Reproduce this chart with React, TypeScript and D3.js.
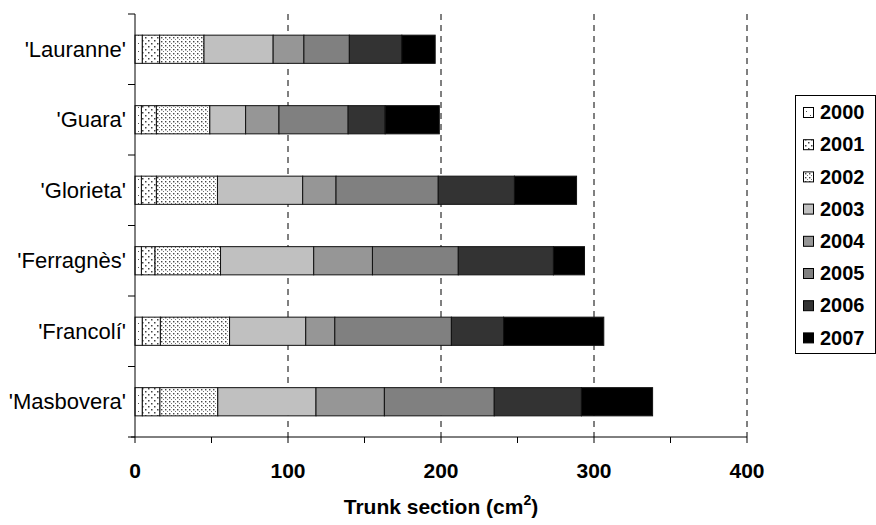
import React, { useEffect, useRef } from "react";
import * as d3 from "d3";

const categories = ["'Lauranne'", "'Guara'", "'Glorieta'", "'Ferragnès'", "'Francolí'", "'Masbovera'"];
const years = ["2000", "2001", "2002", "2003", "2004", "2005", "2006", "2007"];
const y2000 = [4.8, 4.2, 4.2, 4.2, 4.8, 4.8];
const y2001 = [11.3, 9.8, 9.8, 8.9, 11.8, 11.5];
const y2002 = [29.0, 34.9, 39.9, 42.8, 45.2, 37.8];
const y2003 = [45.2, 23.4, 55.7, 60.9, 49.8, 64.2];
const y2004 = [20.1, 21.8, 21.8, 38.4, 19.0, 44.7];
const y2005 = [29.7, 45.2, 66.8, 56.1, 76.2, 71.8];
const y2006 = [34.3, 24.2, 49.8, 62.2, 34.1, 57.0];
const y2007 = [21.8, 35.4, 40.6, 20.3, 65.5, 46.5];
const xTicks = [0, 100, 200, 300, 400];
const xMinorTicks = [0, 50, 100, 150, 200, 250, 300, 350, 400];

const fills = ["url(#p2000)", "url(#p2001)", "url(#p2002)", "#c0c0c0", "#969696", "#808080", "#333333", "#000000"];
const font = "'Liberation Sans', Arial, sans-serif";

const App = () => {
  const svgRef = useRef(null);

  useEffect(() => {
    const svg = d3.select(svgRef.current);
    svg.selectAll("*").remove();

    const width = 876,
      height = 525;
    const left = 135,
      right = 747,
      top = 14,
      bottom = 437;

    const series = [y2000, y2001, y2002, y2003, y2004, y2005, y2006, y2007];
    const rows = categories.map((c, i) => {
      const r = { cat: c };
      years.forEach((yr, j) => (r[yr] = series[j][i]));
      return r;
    });
    const stacked = d3.stack().keys(years)(rows);

    const x = d3.scaleLinear().domain([0, 400]).range([left, right]);
    const y = d3.scaleBand().domain(categories).range([top, bottom]).paddingInner(0.6).paddingOuter(0.3);
    const band = d3.scaleBand().domain(categories).range([top, bottom]);

    svg.attr("width", width).attr("height", height);
    svg.append("rect").attr("width", width).attr("height", height).attr("fill", "#fff");

    // patterns for the first three years
    const defs = svg.append("defs");
    const p0 = defs.append("pattern").attr("id", "p2000").attr("width", 8).attr("height", 8).attr("patternUnits", "userSpaceOnUse");
    p0.append("rect").attr("width", 8).attr("height", 8).attr("fill", "#fff");
    p0.append("rect").attr("x", 2).attr("y", 3).attr("width", 1).attr("height", 1).attr("fill", "#555");
    p0.append("rect").attr("x", 6).attr("y", 7).attr("width", 1).attr("height", 1).attr("fill", "#555");

    const p1 = defs.append("pattern").attr("id", "p2001").attr("width", 6).attr("height", 6).attr("patternUnits", "userSpaceOnUse");
    p1.append("rect").attr("width", 6).attr("height", 6).attr("fill", "#fff");
    p1.append("rect").attr("x", 1).attr("y", 1).attr("width", 1.5).attr("height", 1.5).attr("fill", "#444");
    p1.append("rect").attr("x", 4).attr("y", 4).attr("width", 1.5).attr("height", 1.5).attr("fill", "#444");

    const p2 = defs.append("pattern").attr("id", "p2002").attr("width", 4).attr("height", 4).attr("patternUnits", "userSpaceOnUse");
    p2.append("rect").attr("width", 4).attr("height", 4).attr("fill", "#fff");
    p2.append("rect").attr("x", 1).attr("y", 1).attr("width", 1.4).attr("height", 1.4).attr("fill", "#444");
    p2.append("rect").attr("x", 3).attr("y", 3).attr("width", 1).attr("height", 1).attr("fill", "#777");

    // dashed gridlines
    svg
      .selectAll("grid")
      .data(xTicks.slice(1))
      .join("line")
      .attr("x1", (d) => x(d))
      .attr("x2", (d) => x(d))
      .attr("y1", top)
      .attr("y2", bottom)
      .attr("stroke", "#000")
      .attr("stroke-dasharray", "6,5");

    // bars
    stacked.forEach((s, j) => {
      svg
        .append("g")
        .selectAll("rect")
        .data(s)
        .join("rect")
        .attr("x", (d) => x(d[0]))
        .attr("width", (d) => x(d[1]) - x(d[0]))
        .attr("y", (d) => y(d.data.cat))
        .attr("height", y.bandwidth())
        .attr("fill", fills[j])
        .attr("stroke", "#111")
        .attr("stroke-width", 1);
    });

    // y axis
    svg.append("line").attr("x1", left).attr("x2", left).attr("y1", top).attr("y2", bottom).attr("stroke", "#000");
    const bounds = categories.map((c) => band(c)).concat([bottom]);
    svg
      .selectAll("ytick")
      .data(bounds)
      .join("line")
      .attr("x1", left - 7)
      .attr("x2", left)
      .attr("y1", (d) => d)
      .attr("y2", (d) => d)
      .attr("stroke", "#000");
    svg
      .selectAll("ylab")
      .data(categories)
      .join("text")
      .attr("x", left - 9)
      .attr("y", (d) => band(d) + band.bandwidth() / 2)
      .attr("dy", "0.35em")
      .attr("text-anchor", "end")
      .style("font-family", font)
      .style("font-size", "22px")
      .text((d) => d);

    // x axis
    svg.append("line").attr("x1", left - 4).attr("x2", right).attr("y1", bottom).attr("y2", bottom).attr("stroke", "#000");
    svg
      .selectAll("xtick")
      .data(xMinorTicks)
      .join("line")
      .attr("x1", (d) => x(d))
      .attr("x2", (d) => x(d))
      .attr("y1", bottom)
      .attr("y2", bottom + 6)
      .attr("stroke", "#000");
    svg
      .selectAll("xlab")
      .data(xTicks)
      .join("text")
      .attr("x", (d) => x(d))
      .attr("y", 478)
      .attr("text-anchor", "middle")
      .style("font-family", font)
      .style("font-size", "21px")
      .style("font-weight", "bold")
      .text((d) => d);

    const title = svg
      .append("text")
      .attr("x", (left + right) / 2)
      .attr("y", 514)
      .attr("text-anchor", "middle")
      .style("font-family", font)
      .style("font-size", "21px")
      .style("font-weight", "bold");
    title.append("tspan").text("Trunk section (cm");
    title.append("tspan").attr("dy", -9).style("font-size", "14px").text("2");
    title.append("tspan").attr("dy", 9).text(")");

    // legend
    const lg = svg.append("g");
    lg.append("rect").attr("x", 795.5).attr("y", 95.5).attr("width", 80).attr("height", 258).attr("fill", "#fff").attr("stroke", "#000");
    years.forEach((yr, j) => {
      const cy = 112 + j * 32.2;
      lg.append("rect")
        .attr("x", 803.5)
        .attr("y", cy - 4.5)
        .attr("width", 10)
        .attr("height", 10)
        .attr("fill", fills[j])
        .attr("stroke", "#000");
      lg.append("text")
        .attr("x", 820)
        .attr("y", cy)
        .attr("dy", "0.36em")
        .style("font-family", font)
        .style("font-size", "20px")
        .style("font-weight", "bold")
        .text(yr);
    });
  }, []);

  return <svg ref={svgRef} style={{ position: "absolute", left: 0, top: 0 }} />;
};

export default App;
